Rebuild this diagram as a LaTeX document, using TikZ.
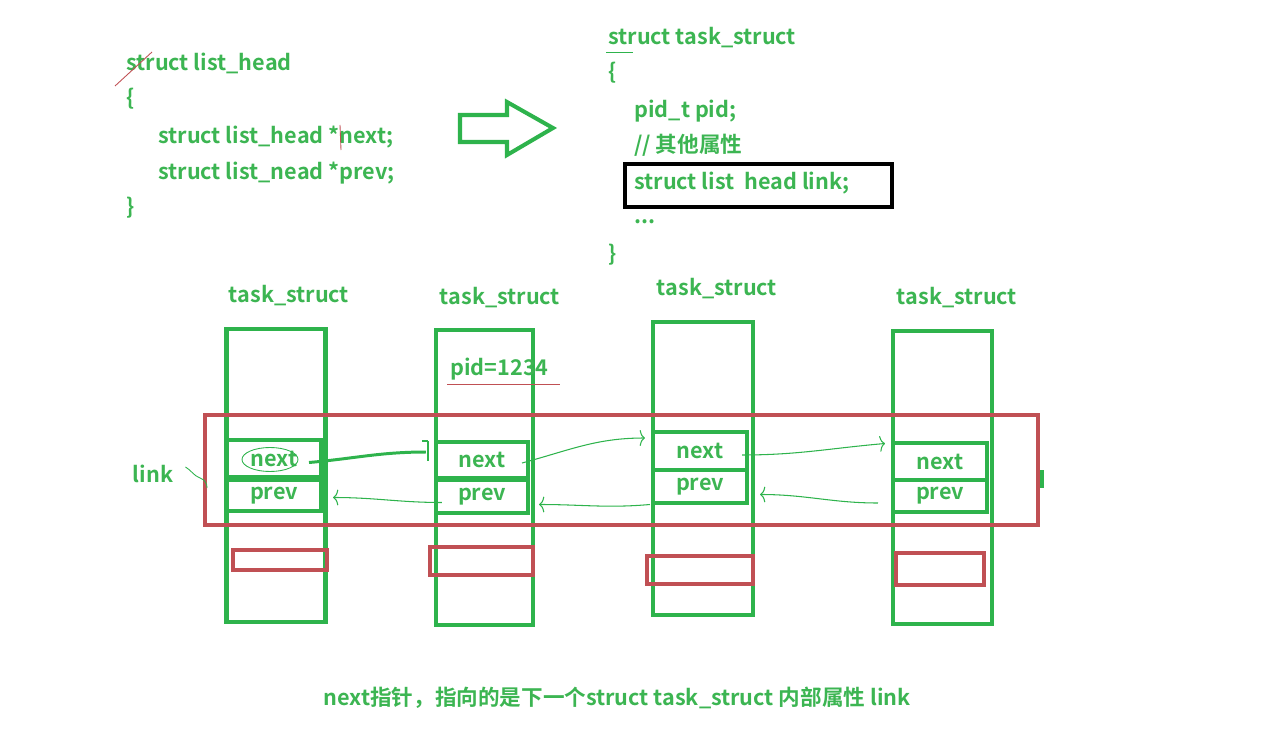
\documentclass[tikz,border=0pt]{standalone}
\usepackage{fontspec}
\newfontfamily\yh{Noto Sans CJK SC Bold}
\usetikzlibrary{positioning,arrows.meta,calc}

\definecolor{txtgreen}{RGB}{60,181,82}
\definecolor{boxgreen}{RGB}{46,179,76}
\definecolor{boxred}{RGB}{192,80,84}

\tikzset{
  code/.style={font=\yh\fontsize{12.3}{14}\selectfont, text=txtgreen, inner sep=0pt},
  taskbox/.style={draw=boxgreen, line width=2.3pt, inner sep=0pt},
  field/.style={draw=boxgreen, line width=2.3pt, inner sep=0pt, minimum width=1.88cm,
    font=\yh\fontsize{12.3}{14}\selectfont, text=txtgreen},
  redbox/.style={draw=boxred, line width=2.3pt, inner sep=0pt},
  ptr/.style={draw=boxgreen, line width=0.6pt, -{To[length=3pt,width=9pt]}},
  scrib/.style={line width=0.5pt},
}

\begin{document}
\begin{tikzpicture}[x=0.02cm,y=-0.02cm]
\useasboundingbox (0,0) rectangle (1261,740);

% list_head
\node[code, anchor=base west] (lh1) at (126,71) {struct list\_head};
\node[code, anchor=base west] (lh2) at (126,106) {\{};
\node[code, anchor=base west] (lh3) at (158,144) {struct list\_head *next;};
\node[code, anchor=base west] (lh4) at (158,179) {struct list\_nead *prev;};
\node[code, anchor=base west] (lh5) at (126,214) {\}};
\draw[scrib, boxred] (115,86) -- (152,52);
\draw[scrib, boxred] (340,125) -- (341,150);

% big arrow
\draw[boxgreen, line width=2.3pt, line join=miter]
  (460,115) -- (507,115) -- (507,102) -- (553,128) -- (507,155) -- (507,142) -- (460,142) -- cycle;

% task_struct
\node[code, anchor=base west] (ts1) at (608,45) {struct task\_struct};
\node[code, anchor=base west] (ts2) at (608,80) {\{};
\node[code, anchor=base west] (ts3) at (634,117) {pid\_t pid;};
\node[code, anchor=base west] (ts4) at (634,153) {// 其他属性};
\node[code, anchor=base west] (ts5) at (634,189) {struct list\ \ head link;};
\node[code, anchor=base west] (ts6) at (634,223) {...};
\node[code, anchor=base west] (ts7) at (608,261) {\}};
\draw[scrib, boxgreen] (606,52) -- (633,52);
\draw[black, line width=2.3pt] (625,164) rectangle (892,207);

% columns
\node[code] (lb1) at (289,296) {task\_struct};
\node[code] (lb2) at (500,298) {task\_struct};
\node[code] (lb3) at (717,289) {task\_struct};
\node[code] (lb4) at (957,298) {task\_struct};

\node[taskbox, minimum width=1.98cm, minimum height=5.88cm] (t1) at (276,475.5) {};
\node[taskbox, minimum width=1.94cm, minimum height=5.90cm] (t2) at (484.5,477.5) {};
\node[taskbox, minimum width=2.00cm, minimum height=5.86cm] (t3) at (703,468.5) {};
\node[taskbox, minimum width=1.98cm, minimum height=5.86cm] (t4) at (942.5,477.5) {};

\node[code, anchor=base west] (pid) at (450,375) {pid=1234};
\draw[scrib, boxred] (447,384) -- (560,384);

\node[redbox, minimum width=16.66cm, minimum height=2.2cm] (link) at (621.5,470) {};
\fill[boxgreen] (1040,470) rectangle (1044,488);

\node[field, minimum height=0.74cm] (n1) at (274,458.5) {next};
\node[field, minimum height=0.62cm] (p1) at (274,495.5) {prev};
\node[field, minimum width=1.84cm, minimum height=0.72cm] (n2) at (482,460) {next};
\node[field, minimum width=1.84cm, minimum height=0.66cm] (p2) at (482,496.5) {prev};
\node[field, minimum height=0.76cm] (n3) at (700,451) {next};
\node[field, minimum height=0.66cm] (p3) at (700,486.5) {prev};
\node[field, minimum height=0.74cm] (n4) at (940,461.5) {next};
\node[field, minimum height=0.64cm] (p4) at (940,496) {prev};

\node[redbox, minimum width=1.88cm, minimum height=0.40cm] (r1) at (280,560) {};
\node[redbox, minimum width=2.06cm, minimum height=0.56cm] (r2) at (481.5,561) {};
\node[redbox, minimum width=2.12cm, minimum height=0.56cm] (r3) at (700,570) {};
\node[redbox, minimum width=1.76cm, minimum height=0.64cm] (r4) at (940,569) {};

\node[code] (lk) at (153,474) {link};
\draw[scrib, boxgreen] (lk.east) ++(12,-7) to[out=-30,in=160] ($(link.west)+(-3,8)$)
  to[out=-20,in=90] ($(link.west)+(4,18)$);

% pointers
\draw[scrib, boxgreen] (n1.center) ++(-4,1) ellipse [x radius=28, y radius=12];
\draw[boxgreen, line width=1.7pt] ($(n1.east)+(-14,4)$) to[out=5,in=180] ($(n2.west)+(-8,-8)$);
\draw[boxgreen, line width=1.2pt] ($(n2.west)+(-6,-19)$) -- ($(n2.west)+(-6,1)$)
  ($(n2.west)+(-12,-19)$) -- ($(n2.west)+(-6,-19)$);
\draw[ptr] ($(n2.east)+(-8,3)$) to[out=15,in=180] ($(n3.west)+(-6,-13)$);
\draw[ptr] ($(n3.east)+(-7,4)$) to[out=0,in=185] ($(n4.west)+(-6,-18)$);
\draw[ptr] ($(p4.west)+(-13,7)$) to[out=180,in=0] ($(p3.east)+(11,8)$);
\draw[ptr] ($(p3.west)+(-1,18)$) to[out=185,in=0] ($(p2.east)+(9,8)$);
\draw[ptr] ($(p2.west)+(8,6)$) to[out=180,in=0] ($(p1.east)+(10,2)$);

\node[code] (note) at (617,698) {next指针，指向的是下一个struct task\_struct 内部属性 link};

\end{tikzpicture}
\end{document}
